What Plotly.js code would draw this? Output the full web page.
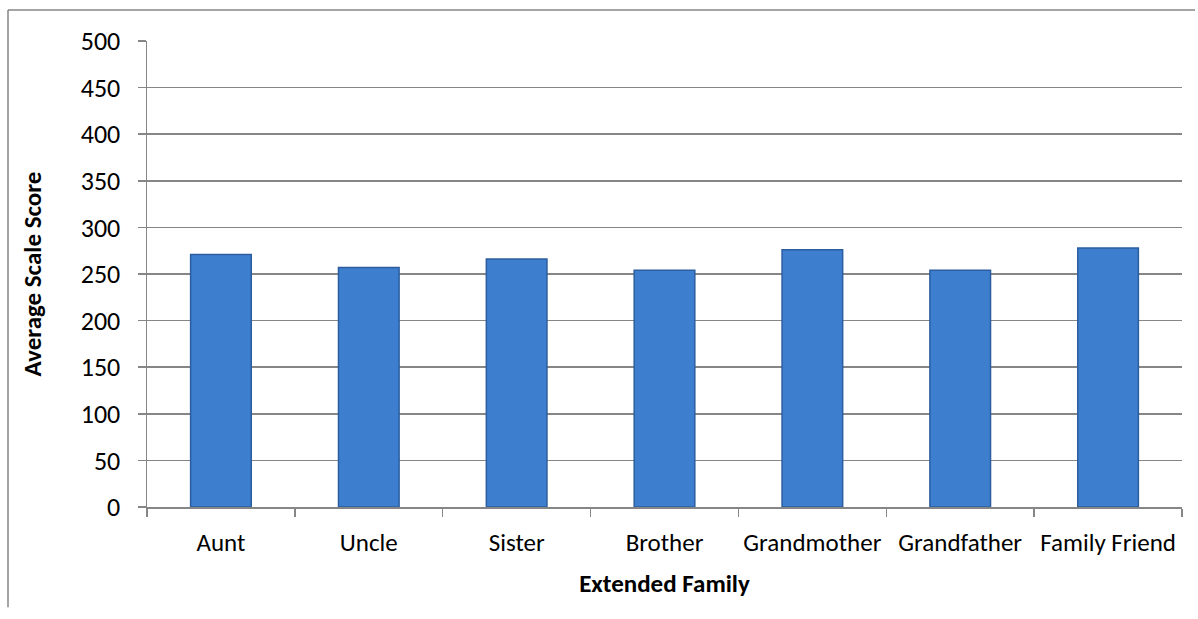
<!DOCTYPE html>
<html>
<head>
<meta charset="utf-8">
<script src="https://cdn.plot.ly/plotly-3.0.1.min.js"></script>
<style>html,body{margin:0;padding:0;background:#fff;}#chart{width:1198px;height:619px;}</style>
</head>
<body>
<div id="chart"></div>
<script>
const categories = ["Aunt", "Uncle", "Sister", "Brother", "Grandmother", "Grandfather", "Family Friend"];
const scores = [271, 257, 266, 254, 276, 254, 278];
const yTicks = [0, 50, 100, 150, 200, 250, 300, 350, 400, 450, 500];
const xTitle = "Extended Family";
const yTitle = "Average Scale Score";

const FONT = "Carlito, Calibri, Lato, 'Open Sans', sans-serif";

const trace = {
  type: "bar",
  x: categories,
  y: scores,
  marker: {
    color: "#3E7ECE",
    line: {color: "#2C5E9F", width: 1.5}
  },
  hoverinfo: "x+y"
};

const layout = {
  width: 1198,
  height: 619,
  margin: {l: 147, r: 16, t: 41, b: 112},
  paper_bgcolor: "#ffffff",
  plot_bgcolor: "#ffffff",
  showlegend: false,
  bargap: 0.59,
  font: {family: FONT, size: 26, color: "#000000"},
  xaxis: {
    type: "category",
    showgrid: false,
    showline: true,
    linecolor: "#868686",
    linewidth: 1.5,
    ticks: "outside",
    tickson: "boundaries",
    ticklen: 8,
    tickcolor: "#868686",
    tickwidth: 1.5,
    tickangle: 0,
    ticklabelstandoff: 12,
    tickfont: {family: FONT, size: 25, color: "#000"},
    title: {text: xTitle, font: {family: FONT, size: 25, color: "#000", weight: "bold"}, standoff: 18},
    fixedrange: true
  },
  yaxis: {
    range: [0, 500],
    tickvals: yTicks,
    ticktext: yTicks.map(String),
    showgrid: true,
    gridcolor: "#868686",
    gridwidth: 1.5,
    zeroline: false,
    showline: true,
    linecolor: "#868686",
    linewidth: 1.5,
    ticks: "outside",
    ticklen: 8,
    tickcolor: "#868686",
    tickwidth: 1.5,
    ticklabelstandoff: 12,
    tickfont: {family: FONT, size: 26, color: "#000"},
    title: {text: yTitle, font: {family: FONT, size: 25, color: "#000", weight: "bold"}, standoff: 32},
    fixedrange: true
  },
  shapes: [
    {type: "line", xref: "paper", yref: "paper", x0: -0.1343, x1: 1.0126, y0: 1.0665, y1: 1.0665, line: {color: "#868686", width: 1.5}},
    {type: "line", xref: "paper", yref: "paper", x0: -0.1343, x1: -0.1343, y0: 1.0665, y1: -0.215, line: {color: "#868686", width: 1.5}}
  ]
};

Plotly.newPlot("chart", [trace], layout, {displayModeBar: false, staticPlot: true});
</script>
</body>
</html>
